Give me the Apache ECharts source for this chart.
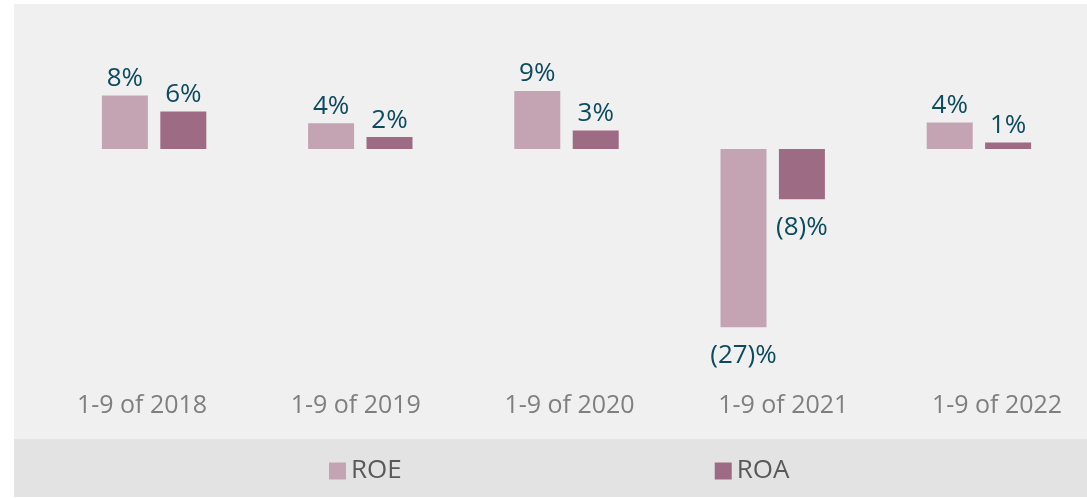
<!DOCTYPE html>
<html>
<head>
<meta charset="utf-8">
<script src="https://cdn.jsdelivr.net/npm/echarts@6/dist/echarts.min.js"></script>
<style>
  html, body { margin: 0; padding: 0; background: #ffffff; }
  #chart { position: absolute; left: 14px; top: 4px; width: 1073px; height: 493px; }
</style>
</head>
<body>
<div id="chart"></div>
<script>
// periods on the x axis
var categories = ['1-9 of 2018', '1-9 of 2019', '1-9 of 2020', '1-9 of 2021', '1-9 of 2022']
// values in %
var roeValues = [8.1, 3.9, 8.8, -27.0, 4.0]
var roaValues = [5.7, 1.8, 2.8, -7.6, 1.0]
var seriesNames = ['ROE', 'ROA']

var FONT = '"Open Sans", "Noto Sans", sans-serif'

function fmtPct (v) {
  var r = Math.round(v)
  if (r < 0) {
    return '(' + Math.abs(r) + ')%'
  }
  return r + '%'
}

function toItems (arr) {
  // negative bars carry their label under the bar
  return arr.map(function (v) {
    return {
      value: v,
      label: v < 0 ? { position: 'bottom', distance: 15 } : { position: 'top', distance: 4 }
    }
  })
}

var labelStyle = {
  show: true,
  color: '#0e4a5e',
  fontSize: 26,
  fontFamily: FONT,
  formatter: function (p) { return fmtPct(p.value) }
}

var chart = echarts.init(document.getElementById('chart'))
chart.setOption({
  backgroundColor: '#f0f0f0',
  animation: false,
  color: ['#c4a3b2', '#9e6b84'],
  graphic: [{
    type: 'rect',
    left: 0,
    bottom: 0,
    z: -10,
    shape: { width: 1073, height: 58 },
    style: { fill: '#e3e3e3' }
  }],
  legend: {
    left: 315,
    top: 454,
    padding: 0,
    itemWidth: 17,
    itemHeight: 17,
    itemGap: 313,
    icon: 'rect',
    textStyle: {
      color: '#595959',
      fontSize: 26,
      lineHeight: 26,
      fontFamily: FONT
    },
    data: seriesNames
  },
  grid: [
    { left: 37, right: 5, top: 13, bottom: 84 },
    // separate grid just to place the period labels
    { left: 128, right: 90, top: 380, height: 1 }
  ],
  xAxis: [{
    type: 'category',
    gridIndex: 0,
    data: categories,
    axisLine: { show: false },
    axisTick: { show: false },
    axisLabel: { show: false },
    splitLine: { show: false }
  },
  {
    type: 'category',
    gridIndex: 1,
    data: categories,
    boundaryGap: false,
    axisLine: { show: false },
    axisTick: { show: false },
    splitLine: { show: false },
    axisLabel: {
      interval: 0,
      margin: 8,
      color: '#7f7f7f',
      fontSize: 25,
      lineHeight: 26,
      fontFamily: FONT
    }
  }],
  yAxis: [{
    type: 'value',
    gridIndex: 0,
    min: -40,
    max: 20,
    show: false,
    splitLine: { show: false }
  },
  {
    type: 'value',
    gridIndex: 1,
    show: false,
    splitLine: { show: false }
  }],
  series: [{
    name: seriesNames[0],
    type: 'bar',
    xAxisIndex: 0,
    yAxisIndex: 0,
    barWidth: 46,
    barGap: '27%',
    label: labelStyle,
    data: toItems(roeValues)
  },
  {
    name: seriesNames[1],
    type: 'bar',
    xAxisIndex: 0,
    yAxisIndex: 0,
    barWidth: 46,
    barGap: '27%',
    label: labelStyle,
    data: toItems(roaValues)
  }]
})
</script>
</body>
</html>
